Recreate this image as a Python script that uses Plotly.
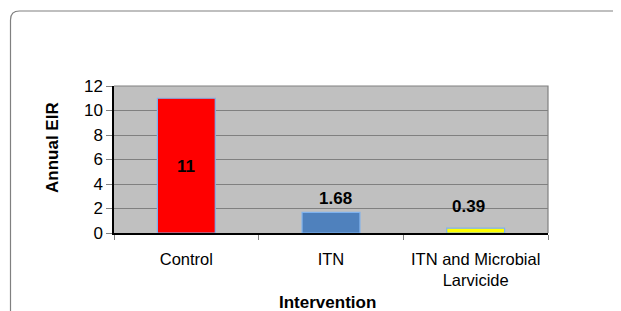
import plotly.graph_objects as go

categories = ["Control", "ITN", "ITN and Microbial<br>Larvicide"]
values = [11, 1.68, 0.39]
value_labels = ["11", "1.68", "0.39"]
bar_colors = ["#FF0000", "#4F81BD", "#FFFF00"]
y_ticks = [0, 2, 4, 6, 8, 10, 12]

# the page body adds an 8px margin, so the figure is drawn 8px smaller
OFF = 8
W, H = 621 - OFF, 311 - OFF
L, R, T, B = 114 - OFF, 73, 86 - OFF, 78
pw, ph = W - L - R, H - T - B

def px_x(x):
    # screen x -> paper fraction
    return (x - OFF - L) / pw

def px_y(y):
    # screen y -> paper fraction
    return (H - B - (y - OFF)) / ph

fig = go.Figure()
fig.add_trace(go.Bar(
    x=categories, y=values,
    marker=dict(color=bar_colors, line=dict(color="#7FB2EE", width=1.2)),
    width=0.4,
    hoverinfo="skip",
))

font = "Liberation Sans, Arial, sans-serif"

# data labels
label_cfg = [
    dict(y=values[0] / 2, yanchor="middle", yshift=-1, xshift=0),
    dict(y=values[1], yanchor="bottom", yshift=2, xshift=4),
    dict(y=values[2], yanchor="bottom", yshift=10, xshift=-7),
]
annotations = []
for cat, txt, cfg in zip(categories, value_labels, label_cfg):
    annotations.append(dict(
        x=cat, y=cfg["y"], xref="x", yref="y", text=f"<b>{txt}</b>",
        showarrow=False, yanchor=cfg["yanchor"], yshift=cfg["yshift"], xshift=cfg["xshift"],
        font=dict(family=font, size=17, color="black"),
    ))

# axis titles
annotations.append(dict(
    x=px_x(52), y=px_y(148), xref="paper", yref="paper", text="<b>Annual EIR</b>",
    textangle=-90, showarrow=False, xanchor="center", yanchor="middle",
    font=dict(family=font, size=17, color="black"),
))
annotations.append(dict(
    x=px_x(327), y=px_y(302), xref="paper", yref="paper", text="<b>Intervention</b>",
    showarrow=False, xanchor="center", yanchor="middle",
    font=dict(family=font, size=17, color="black"),
))

# outer rounded border
xl, yt = px_x(10.5), px_y(11)
xr, yb = px_x(660), px_y(340)
rx, ry = 9 / pw, 9 / ph
border_path = (f"M {xl},{yb} L {xl},{yt - ry} Q {xl},{yt} {xl + rx},{yt} L {xr},{yt}")

shapes = [
    dict(type="path", xref="paper", yref="paper", path=border_path,
         line=dict(color="#808080", width=1.2), layer="above"),
    dict(type="path", xref="paper", yref="paper", path="M 0,1 L 1,1 L 1,0",
         line=dict(color="#808080", width=1.2), layer="above"),
]

fig.update_layout(
    width=W, height=H,
    margin=dict(l=L, r=R, t=T, b=B, pad=0),
    paper_bgcolor="white",
    plot_bgcolor="#C0C0C0",
    showlegend=False,
    bargap=0.6,
    font=dict(family=font, size=16, color="black"),
    annotations=annotations,
    shapes=shapes,
    xaxis=dict(
        type="category", showgrid=False, showline=True, linecolor="black", linewidth=1.5,
        ticks="outside", tickson="boundaries", ticklen=5, tickcolor="#808080",
        ticklabelstandoff=10,
        tickfont=dict(family=font, size=16.5, color="black"),
        zeroline=False, fixedrange=True,
    ),
    yaxis=dict(
        range=[0, 12], tickvals=y_ticks, ticktext=[str(v) for v in y_ticks],
        showgrid=True, gridcolor="#808080", gridwidth=1,
        showline=True, linecolor="black", linewidth=1.5,
        ticks="outside", ticklen=6, tickcolor="#808080",
        tickfont=dict(family=font, size=17, color="black"),
        zeroline=False, fixedrange=True,
    ),
)

fig.write_html("out.html", config={"displayModeBar": False})
